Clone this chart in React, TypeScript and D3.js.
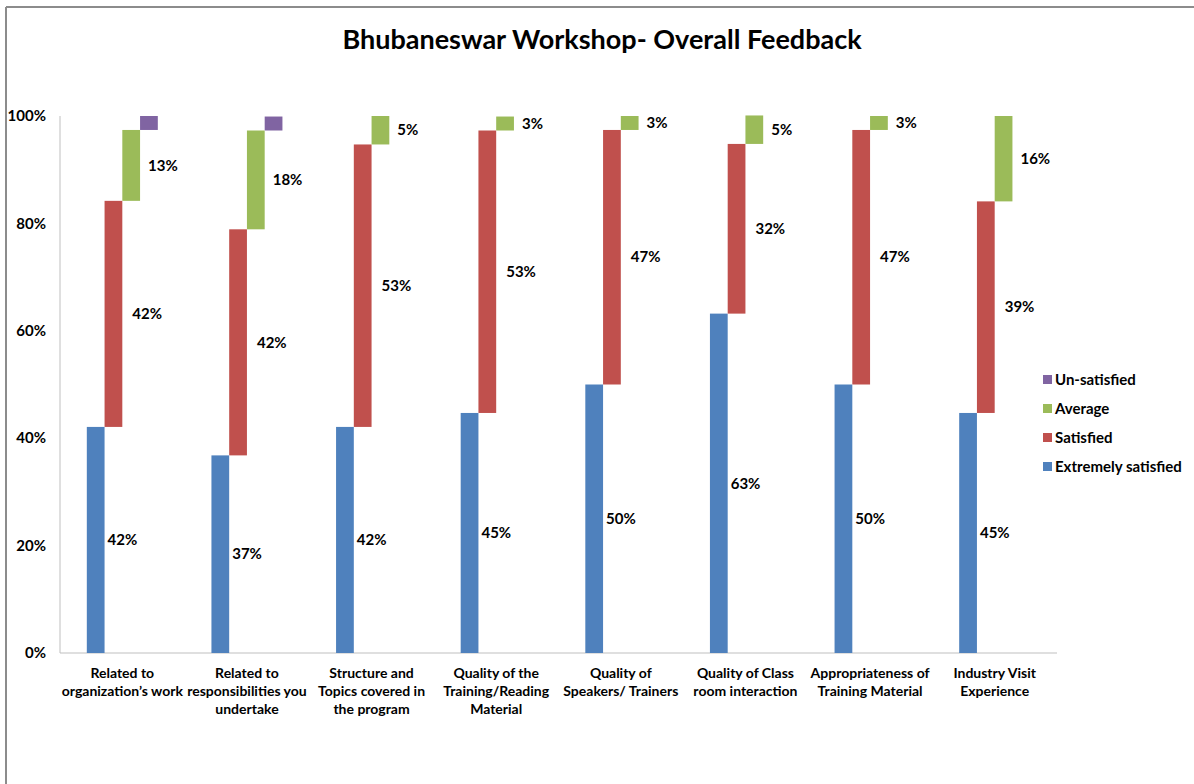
import React from "react";
import * as d3 from "d3";

const title = "Bhubaneswar Workshop- Overall Feedback";
const categories = [
  ["Related to", "organization\u2019s work"],
  ["Related to", "responsibilities you", "undertake"],
  ["Structure and", "Topics covered in", "the program"],
  ["Quality of the", "Training/Reading", "Material"],
  ["Quality of", "Speakers/ Trainers"],
  ["Quality of Class", "room interaction"],
  ["Appropriateness of", "Training Material"],
  ["Industry Visit", "Experience"],
];
const seriesNames = ["Extremely satisfied", "Satisfied", "Average", "Un-satisfied"];
const seriesColors = ["#4F81BD", "#C0504D", "#9BBB59", "#8064A2"];
const extremelySatisfied = [42.1, 36.8, 42.1, 44.7, 50.0, 63.2, 50.0, 44.7];
const satisfied = [42.1, 42.1, 52.6, 52.6, 47.4, 31.6, 47.4, 39.4];
const average = [13.2, 18.4, 5.3, 2.6, 2.6, 5.3, 2.6, 15.9];
const unSatisfied = [2.6, 2.6, 0, 0, 0, 0, 0, 0];
const yTicks = [0, 20, 40, 60, 80, 100];
const labelOffsets = [3, 10, 8]; // px gap from bar right edge per labelled series

const seriesValues = [extremelySatisfied, satisfied, average, unSatisfied];

export default function App() {
  const W = 1194, H = 784;
  const left = 60, right = 1057, top = 116, bottom = 653;
  const font = "Lato, 'Open Sans', sans-serif";
  const x = d3.scaleBand<number>().domain(d3.range(categories.length)).range([left, right]).paddingInner(0);
  const sub = d3.scaleBand<number>().domain(d3.range(4)).range([-35.5, 35.5]);
  const y = d3.scaleLinear().domain([0, 100]).range([bottom, top]);

  const bars: any[] = [];
  const labels: any[] = [];
  categories.forEach((_, ci) => {
    let cum = 0;
    const cx = (x(ci) as number) + x.bandwidth() / 2;
    seriesValues.forEach((vals, si) => {
      const v = vals[ci];
      const y0 = cum, y1 = cum + v;
      cum = y1;
      if (v <= 0) return;
      const bx = cx + (sub(si) as number);
      bars.push(
        <rect key={`b${ci}-${si}`} x={bx} y={y(y1)} width={sub.bandwidth()} height={y(y0) - y(y1)} fill={seriesColors[si]} />
      );
      if (si < 3) {
        labels.push(
          <text key={`l${ci}-${si}`} x={bx + sub.bandwidth() + labelOffsets[si]} y={y((y0 + y1) / 2)} dy="0.35em"
            fontSize={15} fontWeight="bold" fill="#000" fontFamily={font}>
            {Math.round(v)}%
          </text>
        );
      }
    });
  });

  return (
    <svg width={W} height={H} style={{ position: "absolute", left: 0, top: 0, background: "#fff" }}>
      <rect x={0} y={0} width={W} height={H} fill="#fff" />
      <line x1={6} y1={7} x2={W} y2={7} stroke="#8c8c8c" strokeWidth={2} />
      <line x1={6} y1={7} x2={6} y2={H} stroke="#8c8c8c" strokeWidth={2} />
      <text x={602} y={49} textAnchor="middle" fontSize={27} fontWeight="bold" fontFamily={font} fill="#000">{title}</text>
      {yTicks.map((t) => (
        <text key={t} x={46} y={y(t)} dy="0.35em" textAnchor="end" fontSize={15} fontWeight="bold" fontFamily={font} fill="#000">
          {t}%
        </text>
      ))}
      <line x1={left} y1={top} x2={left} y2={bottom} stroke="#bfbfbf" strokeWidth={1} />
      <line x1={left} y1={bottom} x2={right} y2={bottom} stroke="#bfbfbf" strokeWidth={1} />
      {bars}
      {labels}
      {categories.map((lines, ci) => {
        const cx = (x(ci) as number) + x.bandwidth() / 2;
        return (
          <text key={`c${ci}`} textAnchor="middle" fontSize={14} fontWeight="bold" fontFamily={font} fill="#000">
            {lines.map((ln, li) => (
              <tspan key={li} x={cx} y={678 + li * 18}>{ln}</tspan>
            ))}
          </text>
        );
      })}
      {[3, 2, 1, 0].map((si, i) => (
        <g key={`lg${si}`} transform={`translate(1043, ${380 + i * 29})`}>
          <rect x={0} y={-5} width={9} height={9} fill={seriesColors[si]} />
          <text x={12} y={0} dy="0.35em" fontSize={15} fontWeight="bold" fontFamily={font} fill="#000">{seriesNames[si]}</text>
        </g>
      ))}
    </svg>
  );
}
